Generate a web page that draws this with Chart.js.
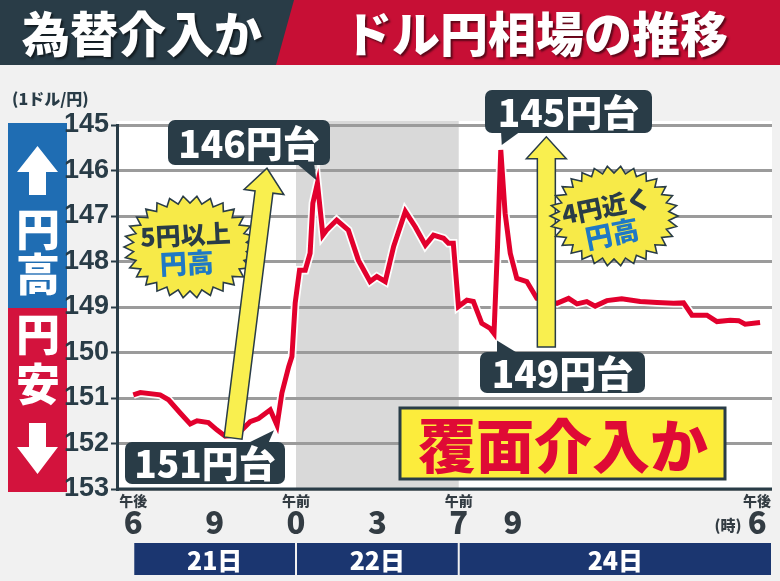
<!DOCTYPE html>
<html lang="ja">
<head>
<meta charset="utf-8">
<script src="https://cdn.jsdelivr.net/npm/chart.js@4.4.0/dist/chart.umd.min.js"></script>
<style>
  html, body { margin: 0; padding: 0; background: #f1f1f1; }
  #wrap { width: 780px; height: 581px; }
</style>
</head>
<body>
<div id="wrap"><canvas id="fxChart" width="780" height="581"></canvas></div>
<script>
// 横軸は「21日午後6時」からの経過時間（22日→24日の間は詰めてある）
const hours = [0, 0.26, 0.99, 1.3, 1.73, 2.1, 2.35, 2.77, 3.08, 3.39, 3.82, 4.31, 4.62, 5.05, 5.3, 5.48, 5.73, 5.85, 5.97,
  6.13, 6.34, 6.52, 6.62, 6.79, 6.99, 7.13, 7.5, 7.93, 8.3, 8.73, 8.98, 9.29, 9.6, 10.03, 10.4, 10.77, 11.07, 11.44, 11.62, 11.8,
  11.99, 12.3, 12.54, 12.85, 13.16, 13.3, 13.43, 13.55, 13.71, 13.9, 14.14, 14.51, 14.88, 15.62, 16.05, 16.36, 16.72, 17.03,
  17.46, 18.01, 18.69, 19.31, 19.92, 20.29, 20.6, 21.15, 21.52, 22.01, 22.32, 22.56, 23.11];
const rates = [150.93, 150.88, 150.93, 151.04, 151.33, 151.57, 151.5, 151.54, 151.7, 151.84, 151.81, 151.52, 151.45, 151.26, 151.6, 150.89, 150.31, 150.09, 148.91,
  148.19, 148.19, 147.82, 146.72, 146.28, 147.42, 147.31, 147.09, 147.31, 147.97, 148.44, 148.33, 148.44, 147.67, 146.9, 147.24, 147.64, 147.42, 147.49, 147.6, 147.6,
  148.99, 148.85, 148.88, 149.36, 149.47, 149.58, 147.67, 145.55, 146.94, 147.82, 148.37, 148.44, 148.81, 148.92, 148.81, 148.93, 148.88, 148.98,
  148.86, 148.82, 148.88, 148.9, 148.92, 148.91, 149.18, 149.18, 149.32, 149.29, 149.3, 149.38, 149.34];

const yTicks = [145, 146, 147, 148, 149, 150, 151, 152, 153];
const xTickHours = [0, 3, 6, 9, 12, 14, 23];
const xTickLabels = ['6', '9', '0', '3', '7', '9', '6'];
const xTickAmPm = ['午後', '', '午前', '', '午前', '', '午後'];
const dayLabels = ['21日', '22日', '24日'];
const dayStarts = [0, 6, 12];
const nightBand = [6, 12];

const JP = "'Noto Sans CJK JP', 'Noto Sans', sans-serif";
const NARROW = "'Liberation Sans Narrow', 'Liberation Sans', sans-serif";
const DARK = '#293c47';
const RED_LINE = '#e2002d';

function rrect(ctx, x, y, w, h, r) {
  ctx.beginPath();
  ctx.moveTo(x + r, y);
  ctx.arcTo(x + w, y, x + w, y + h, r);
  ctx.arcTo(x + w, y + h, x, y + h, r);
  ctx.arcTo(x, y + h, x, y, r);
  ctx.arcTo(x, y, x + w, y, r);
  ctx.closePath();
}

function callout(ctx, text, x, y, w, h, tri) {
  ctx.save();
  ctx.fillStyle = DARK;
  rrect(ctx, x, y, w, h, 7);
  ctx.fill();
  ctx.beginPath();
  ctx.moveTo(tri[0][0], tri[0][1]);
  ctx.lineTo(tri[1][0], tri[1][1]);
  ctx.lineTo(tri[2][0], tri[2][1]);
  ctx.closePath();
  ctx.fill();
  ctx.fillStyle = '#fff';
  ctx.font = '900 37px ' + JP;
  ctx.textAlign = 'center';
  ctx.textBaseline = 'middle';
  ctx.fillText(text, x + w / 2, y + h / 2 + 1);
  ctx.restore();
}

function arrow(ctx, x0, y0, x1, y1, shaft, head, headLen) {
  const ang = Math.atan2(y1 - y0, x1 - x0);
  const len = Math.hypot(x1 - x0, y1 - y0);
  ctx.save();
  ctx.translate(x0, y0);
  ctx.rotate(ang);
  ctx.beginPath();
  ctx.moveTo(0, -shaft / 2);
  ctx.lineTo(len - headLen, -shaft / 2);
  ctx.lineTo(len - headLen, -head / 2);
  ctx.lineTo(len, 0);
  ctx.lineTo(len - headLen, head / 2);
  ctx.lineTo(len - headLen, shaft / 2);
  ctx.lineTo(0, shaft / 2);
  ctx.closePath();
  ctx.fillStyle = '#f9ef4f';
  ctx.fill();
  ctx.strokeStyle = DARK;
  ctx.lineWidth = 1.5;
  ctx.stroke();
  ctx.restore();
}

function burst(ctx, cx, cy, rx, ry, n) {
  ctx.save();
  ctx.beginPath();
  for (let i = 0; i < n * 2; i++) {
    const a = Math.PI * i / n;
    const k = i % 2 === 0 ? 1 : 0.86;
    const px = cx + Math.cos(a) * rx * k;
    const py = cy + Math.sin(a) * ry * k;
    if (i === 0) ctx.moveTo(px, py); else ctx.lineTo(px, py);
  }
  ctx.closePath();
  ctx.fillStyle = '#f7ea48';
  ctx.fill();
  ctx.strokeStyle = DARK;
  ctx.lineWidth = 1.6;
  ctx.stroke();
  ctx.restore();
}

function burstText(ctx, cx, cy, rot, top, bottom) {
  ctx.save();
  ctx.translate(cx, cy);
  ctx.rotate(rot);
  ctx.textAlign = 'center';
  ctx.textBaseline = 'middle';
  ctx.font = '900 25px ' + JP;
  ctx.fillStyle = DARK;
  ctx.fillText(top, 0, -13);
  ctx.font = '900 27px ' + JP;
  ctx.fillStyle = '#1f79c4';
  ctx.fillText(bottom, 0, 15);
  ctx.restore();
}

const decor = {
  id: 'decor',
  beforeDraw(chart) {
    const { ctx, chartArea: a, scales: { x } } = chart;
    ctx.save();
    ctx.fillStyle = '#f1f1f1';
    ctx.fillRect(0, 0, chart.width, chart.height);
    ctx.fillStyle = '#ffffff';
    ctx.fillRect(a.left, a.top - 4, a.right - a.left, a.bottom - a.top + 4);
    ctx.fillStyle = '#d9d9d9';
    const b0 = x.getPixelForValue(nightBand[0]);
    const b1 = x.getPixelForValue(nightBand[1]);
    ctx.fillRect(b0, a.top - 4, b1 - b0, a.bottom - a.top + 4);

    // header
    ctx.fillStyle = '#c70f35';
    ctx.fillRect(0, 0, chart.width, 65);
    ctx.fillStyle = DARK;
    ctx.beginPath();
    ctx.moveTo(0, 0); ctx.lineTo(294, 0); ctx.lineTo(276, 65); ctx.lineTo(0, 65);
    ctx.closePath();
    ctx.fill();
    ctx.fillStyle = '#fff';
    ctx.textAlign = 'center';
    ctx.textBaseline = 'middle';
    ctx.shadowColor = 'rgba(0,0,0,0.55)';
    ctx.shadowOffsetX = 2; ctx.shadowOffsetY = 2; ctx.shadowBlur = 2;
    ctx.font = '900 48px ' + JP;
    ctx.fillText('為替介入か', 142, 34);
    ctx.fillText('ドル円相場の推移', 536, 34);
    ctx.shadowColor = 'transparent';

    // unit
    ctx.fillStyle = DARK;
    ctx.font = '900 16px ' + JP;
    ctx.textAlign = 'left';
    ctx.fillText('(1ドル/円)', 12, 99);

    // 円高 / 円安 boxes
    ctx.fillStyle = '#1f6db3';
    ctx.fillRect(8, 123, 59, 185);
    ctx.fillStyle = '#d3133d';
    ctx.fillRect(8, 308, 59, 184);
    ctx.fillStyle = '#fff';
    ctx.beginPath();
    ctx.moveTo(37.5, 146); ctx.lineTo(58, 172); ctx.lineTo(46, 172); ctx.lineTo(46, 195);
    ctx.lineTo(29, 195); ctx.lineTo(29, 172); ctx.lineTo(17, 172); ctx.closePath();
    ctx.fill();
    ctx.beginPath();
    ctx.moveTo(37.5, 474); ctx.lineTo(58, 447); ctx.lineTo(46, 447); ctx.lineTo(46, 423);
    ctx.lineTo(29, 423); ctx.lineTo(29, 447); ctx.lineTo(17, 447); ctx.closePath();
    ctx.fill();
    ctx.font = '900 44px ' + JP;
    ctx.textAlign = 'center';
    ctx.fillText('円', 38, 229);
    ctx.fillText('高', 38, 274);
    ctx.fillText('円', 38, 334);
    ctx.fillText('安', 38, 384);
    ctx.restore();
  },
  beforeDatasetsDraw(chart) {
    const { ctx, chartArea: a } = chart;
    ctx.save();
    ctx.strokeStyle = DARK;
    ctx.lineWidth = 3;
    ctx.beginPath();
    ctx.moveTo(a.left - 1, a.bottom);
    ctx.lineTo(a.right, a.bottom);
    ctx.stroke();
    ctx.restore();
  },
  afterDraw(chart) {
    const { ctx, chartArea: a, scales: { x, y } } = chart;
    const px = i => x.getPixelForValue(hours[i]);
    const py = i => y.getPixelForValue(rates[i]);
    const pick = (from, to, cmp) => {
      let best = -1;
      hours.forEach((h, i) => {
        if (h >= from && h < to && (best < 0 || cmp(rates[i], rates[best]))) best = i;
      });
      return best;
    };
    const peak1 = pick(6, 12, (u, v) => u < v);
    const peak2 = pick(12, 24, (u, v) => u < v);
    const dip1 = pick(5, 5.5, (u, v) => u > v);
    const low2 = pick(12.5, 13.5, (u, v) => u > v);

    // x axis labels
    ctx.save();
    ctx.fillStyle = '#333c43';
    ctx.textAlign = 'center';
    ctx.textBaseline = 'middle';
    xTickHours.forEach((h, i) => {
      const cx = x.getPixelForValue(h);
      ctx.font = '900 31px ' + JP;
      ctx.fillText(xTickLabels[i], cx, 522);
      if (xTickAmPm[i]) {
        ctx.font = '900 14px ' + JP;
        ctx.fillText(xTickAmPm[i], cx, 501);
      }
    });
    ctx.font = '900 15px ' + JP;
    ctx.fillText('(時)', 728, 525);

    // date band
    dayLabels.forEach((d, i) => {
      const l = x.getPixelForValue(dayStarts[i]) + 1;
      const r = i + 1 < dayStarts.length ? x.getPixelForValue(dayStarts[i + 1]) - 1 : a.right - 1;
      ctx.fillStyle = '#1b3670';
      ctx.fillRect(l, 543, r - l, 32);
      ctx.fillStyle = '#fff';
      ctx.font = '900 25px ' + JP;
      ctx.fillText(d, (l + r) / 2, 560);
    });
    ctx.restore();

    // bursts and arrows
    burst(ctx, 190, 247, 66, 51, 30);
    burstText(ctx, 186, 248, -0.05, '5円以上', '円高');
    arrow(ctx, x.getPixelForValue(3.68), y.getPixelForValue(151.88),
      x.getPixelForValue(4.93), y.getPixelForValue(145.95), 18, 40, 24);
    arrow(ctx, x.getPixelForValue(15.23), y.getPixelForValue(149.88),
      x.getPixelForValue(15.23), y.getPixelForValue(145.26), 18, 40, 22);
    burst(ctx, 614, 216, 64, 50, 30);
    burstText(ctx, 609, 219, -0.2, '4円近く', '円高');

    // callouts
    callout(ctx, '146円台', 168, 120, 162, 45,
      [[296, 163], [314, 163], [px(peak1) - 1, py(peak1) - 3]]);
    callout(ctx, '145円台', 485, 90, 167, 43,
      [[501, 131], [521, 131], [px(peak2) + 1, py(peak2) - 5]]);
    callout(ctx, '149円台', 480, 352, 165, 41,
      [[497, 354], [519, 354], [px(low2) + 3, py(low2) + 7]]);
    callout(ctx, '151円台', 125, 442, 160, 42,
      [[246, 444], [268, 444], [px(dip1) - 3, py(dip1) + 5]]);

    // 覆面介入か
    ctx.save();
    ctx.fillStyle = '#fcec3c';
    ctx.fillRect(400, 408, 325, 71);
    ctx.strokeStyle = DARK;
    ctx.lineWidth = 3;
    ctx.strokeRect(400, 408, 325, 71);
    ctx.fillStyle = '#df0a35';
    ctx.font = '900 58px ' + JP;
    ctx.textAlign = 'center';
    ctx.textBaseline = 'middle';
    ctx.fillText('覆面介入か', 563, 446);
    ctx.restore();
  }
};

const points = hours.map((h, i) => ({ x: h, y: rates[i] }));

new Chart(document.getElementById('fxChart'), {
  type: 'line',
  data: {
    datasets: [
      { data: points, borderColor: RED_LINE, borderWidth: 5, pointRadius: 0, tension: 0, order: 1 },
      { data: points, borderColor: 'rgba(255,255,255,0.95)', borderWidth: 8.5, pointRadius: 0, tension: 0, order: 2 }
    ]
  },
  options: {
    responsive: false,
    animation: false,
    layout: { padding: { top: 125, right: 8, bottom: 92, left: 0 } },
    plugins: { legend: { display: false }, tooltip: { enabled: false } },
    scales: {
      x: { type: 'linear', min: -0.6, max: 23.55, display: false },
      y: {
        reverse: true,
        min: 145,
        max: 153,
        afterFit: s => { s.width = 117; },
        afterBuildTicks: s => { s.ticks = yTicks.map(v => ({ value: v })); },
        border: { display: true, color: DARK, width: 3 },
        grid: { color: '#9b9b9b', lineWidth: 3, tickLength: 6, tickColor: DARK, tickWidth: 2 },
        ticks: {
          color: DARK,
          padding: 2,
          font: { family: NARROW, size: 27, weight: 'bold' },
          callback: v => String(v)
        }
      }
    }
  },
  plugins: [decor]
});
</script>
</body>
</html>
